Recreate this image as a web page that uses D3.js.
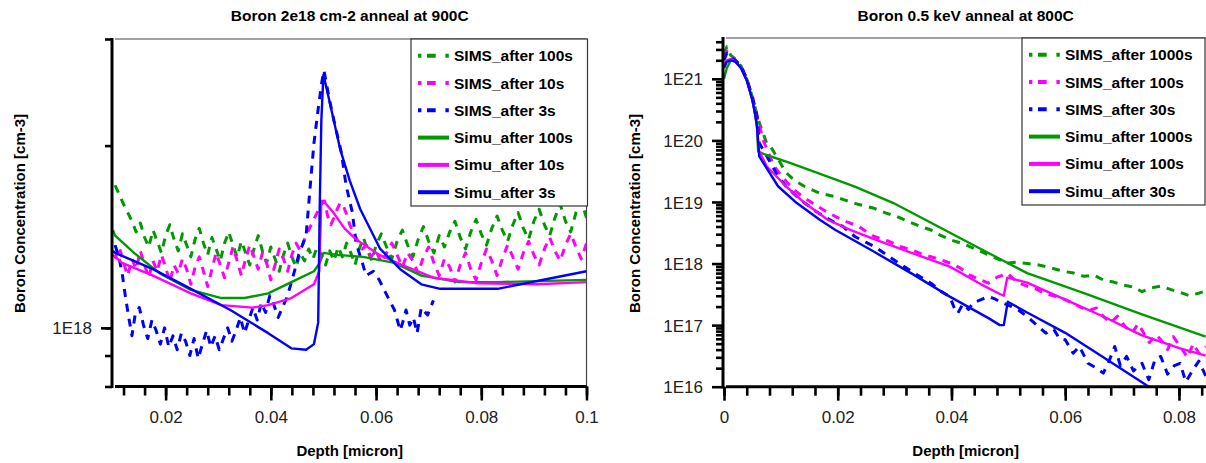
<!DOCTYPE html>
<html><head><meta charset="utf-8">
<script src="https://cdn.jsdelivr.net/npm/d3@7"></script>
<style>body{margin:0;background:#fff}svg{display:block}</style>
</head><body>
<svg id="c" width="1206" height="463"></svg>
<script>
// ---------------- DATA ----------------
const leftTitle = "Boron 2e18 cm-2 anneal at 900C";
const rightTitle = "Boron 0.5 keV anneal at 800C";
const xTitle = "Depth [micron]";
const yTitle = "Boron Concentration [cm-3]";

const leftLegend = ["SIMS_after 100s","SIMS_after 10s","SIMS_after 3s","Simu_after 100s","Simu_after 10s","Simu_after 3s"];
const rightLegend = ["SIMS_after 1000s","SIMS_after 100s","SIMS_after 30s","Simu_after 1000s","Simu_after 100s","Simu_after 30s"];

const leftXMajor = [0.02,0.04,0.06,0.08,0.1];
const leftXLabels = ["0.02","0.04","0.06","0.08","0.1"];
const leftYTicks = [0.8,0.9,1,2,3];          // units of 1E18
const leftYMajor = [1];
const leftYLabels = ["1E18"];
const rightXMajor = [0,0.02,0.04,0.06,0.08];
const rightXLabels = ["0","0.02","0.04","0.06","0.08"];
const rightYMajor = [1e16,1e17,1e18,1e19,1e20,1e21];
const rightYLabels = ["1E16","1E17","1E18","1E19","1E20","1E21"];

// Left panel: [depth (micron), concentration in 1E18 cm-3]
const simsLeft100 = [[0.0104,1.72],[0.0112,1.66],[0.0120,1.60],[0.0128,1.55],[0.0136,1.50],[0.0144,1.44],[0.0152,1.49],[0.0160,1.41],[0.0168,1.36],[0.0176,1.45],[0.0184,1.39],[0.0192,1.33],[0.0200,1.42],[0.0208,1.48],[0.0216,1.40],[0.0224,1.34],[0.0232,1.43],[0.0240,1.37],[0.0248,1.31],[0.0256,1.40],[0.0264,1.46],[0.0272,1.38],[0.0280,1.32],[0.0288,1.41],[0.0296,1.35],[0.0304,1.29],[0.0312,1.38],[0.0320,1.44],[0.0328,1.37],[0.0336,1.31],[0.0344,1.39],[0.0352,1.33],[0.0360,1.27],[0.0368,1.35],[0.0376,1.42],[0.0384,1.34],[0.0392,1.28],[0.0400,1.36],[0.0408,1.30],[0.0416,1.24],[0.0424,1.32],[0.0432,1.38],[0.0440,1.31],[0.0448,1.26],[0.0456,1.33],[0.0464,1.29],[0.0472,1.35],[0.0480,1.30],[0.0488,1.36],[0.0496,1.32],[0.0504,1.27],[0.0512,1.34],[0.0520,1.29],[0.0528,1.36],[0.0536,1.31],[0.0544,1.38],[0.0552,1.33],[0.0560,1.27],[0.0568,1.35],[0.0576,1.41],[0.0584,1.34],[0.0592,1.29],[0.0600,1.37],[0.0610,1.43],[0.0620,1.36],[0.0630,1.30],[0.0640,1.39],[0.0650,1.45],[0.0660,1.37],[0.0670,1.31],[0.0680,1.40],[0.0690,1.47],[0.0700,1.39],[0.0710,1.33],[0.0720,1.42],[0.0730,1.36],[0.0740,1.44],[0.0750,1.50],[0.0760,1.41],[0.0770,1.35],[0.0780,1.44],[0.0790,1.51],[0.0800,1.43],[0.0810,1.37],[0.0820,1.46],[0.0830,1.53],[0.0840,1.45],[0.0850,1.39],[0.0860,1.48],[0.0870,1.55],[0.0880,1.46],[0.0890,1.40],[0.0900,1.50],[0.0910,1.57],[0.0920,1.48],[0.0930,1.42],[0.0940,1.52],[0.0950,1.60],[0.0960,1.50],[0.0970,1.44],[0.0980,1.55],[0.0990,1.62],[0.1000,1.52]];
const simsLeft10 = [[0.0104,1.30],[0.0112,1.36],[0.0120,1.28],[0.0128,1.22],[0.0136,1.30],[0.0144,1.25],[0.0152,1.34],[0.0160,1.27],[0.0168,1.21],[0.0176,1.29],[0.0184,1.24],[0.0192,1.32],[0.0200,1.26],[0.0208,1.19],[0.0216,1.27],[0.0224,1.23],[0.0232,1.30],[0.0240,1.25],[0.0248,1.18],[0.0256,1.26],[0.0264,1.31],[0.0272,1.24],[0.0280,1.17],[0.0288,1.25],[0.0296,1.33],[0.0304,1.27],[0.0312,1.21],[0.0320,1.28],[0.0328,1.36],[0.0336,1.29],[0.0344,1.22],[0.0352,1.30],[0.0360,1.37],[0.0368,1.31],[0.0376,1.25],[0.0384,1.33],[0.0392,1.28],[0.0400,1.20],[0.0408,1.27],[0.0416,1.35],[0.0424,1.30],[0.0432,1.24],[0.0440,1.32],[0.0448,1.38],[0.0456,1.34],[0.0464,1.40],[0.0472,1.45],[0.0480,1.50],[0.0488,1.55],[0.0496,1.60],[0.0502,1.62],[0.0508,1.53],[0.0514,1.48],[0.0520,1.52],[0.0526,1.57],[0.0532,1.61],[0.0538,1.59],[0.0544,1.54],[0.0550,1.48],[0.0558,1.43],[0.0566,1.39],[0.0574,1.35],[0.0582,1.37],[0.0590,1.31],[0.0600,1.34],[0.0610,1.28],[0.0620,1.33],[0.0630,1.38],[0.0640,1.32],[0.0650,1.26],[0.0660,1.33],[0.0670,1.29],[0.0680,1.23],[0.0690,1.31],[0.0700,1.36],[0.0710,1.28],[0.0720,1.22],[0.0730,1.30],[0.0740,1.26],[0.0750,1.19],[0.0760,1.27],[0.0770,1.33],[0.0780,1.25],[0.0790,1.20],[0.0800,1.28],[0.0810,1.35],[0.0820,1.29],[0.0830,1.22],[0.0840,1.30],[0.0850,1.37],[0.0860,1.31],[0.0870,1.25],[0.0880,1.33],[0.0890,1.39],[0.0900,1.32],[0.0910,1.27],[0.0920,1.35],[0.0930,1.41],[0.0940,1.34],[0.0950,1.29],[0.0960,1.37],[0.0970,1.43],[0.0980,1.36],[0.0990,1.30],[0.1000,1.38]];
const simsLeft3 = [[0.0104,1.37],[0.0112,1.30],[0.0118,1.22],[0.0124,1.12],[0.0130,1.04],[0.0136,0.97],[0.0142,1.05],[0.0150,1.08],[0.0158,1.01],[0.0166,0.96],[0.0174,1.03],[0.0182,0.99],[0.0190,0.94],[0.0198,1.00],[0.0206,0.93],[0.0214,0.97],[0.0222,0.92],[0.0230,0.98],[0.0238,0.95],[0.0246,0.90],[0.0254,0.96],[0.0262,0.89],[0.0270,0.94],[0.0278,0.99],[0.0286,0.93],[0.0294,0.97],[0.0302,0.92],[0.0310,0.96],[0.0318,1.00],[0.0326,0.95],[0.0334,0.99],[0.0342,1.04],[0.0350,0.98],[0.0358,1.03],[0.0366,1.08],[0.0374,1.03],[0.0382,1.10],[0.0390,1.06],[0.0398,1.13],[0.0406,1.09],[0.0414,1.04],[0.0422,1.08],[0.0430,1.12],[0.0438,1.18],[0.0446,1.25],[0.0453,1.32],[0.0467,1.42],[0.0475,1.72],[0.0482,2.02],[0.0490,2.30],[0.0497,2.55],[0.0501,2.66],[0.0511,2.39],[0.0522,2.16],[0.0534,1.95],[0.0543,1.72],[0.0555,1.55],[0.0562,1.38],[0.0574,1.28],[0.0581,1.22],[0.0595,1.24],[0.0606,1.20],[0.0621,1.13],[0.0635,1.07],[0.0646,0.99],[0.0652,1.03],[0.0657,1.07],[0.0664,1.01],[0.0671,1.04],[0.0678,0.98],[0.0686,1.08],[0.0698,1.05],[0.0709,1.11]];
const simuLeft100 = [[0.0100,1.45],[0.0104,1.42],[0.0140,1.33],[0.0189,1.23],[0.0248,1.155],[0.0306,1.12],[0.0350,1.12],[0.0395,1.14],[0.0439,1.19],[0.0482,1.24],[0.0493,1.28],[0.0500,1.33],[0.0526,1.32],[0.0575,1.31],[0.0635,1.28],[0.0686,1.22],[0.0758,1.19],[0.0831,1.19],[0.1000,1.20]];
const simuLeft10 = [[0.0100,1.32],[0.0117,1.28],[0.0176,1.22],[0.0248,1.14],[0.0306,1.09],[0.0365,1.08],[0.0395,1.09],[0.0439,1.12],[0.0482,1.18],[0.0492,1.24],[0.0496,1.62],[0.0500,1.62],[0.0519,1.55],[0.0540,1.46],[0.0562,1.40],[0.0606,1.32],[0.0650,1.27],[0.0709,1.21],[0.0794,1.185],[0.0905,1.18],[0.1000,1.19]];
const simuLeft3 = [[0.0100,1.34],[0.0104,1.33],[0.0176,1.25],[0.0248,1.16],[0.0323,1.07],[0.0395,0.98],[0.0439,0.925],[0.0467,0.92],[0.0482,0.94],[0.0490,1.02],[0.0493,1.60],[0.0496,2.20],[0.0500,2.62],[0.0510,2.40],[0.0532,1.97],[0.0550,1.75],[0.0570,1.57],[0.0608,1.35],[0.0646,1.25],[0.0686,1.18],[0.0722,1.16],[0.0831,1.16],[0.1000,1.24]];

// Right panel: [depth (micron), concentration (cm-3)]
const simsRight1000 = [[0,2.5e21],[0.0005,3.3e21],[0.0012,2.4e21],[0.002,2.1e21],[0.003,1.6e21],[0.004,1.0e21],[0.005,5.0e20],[0.0058,2.6e20],[0.0062,1.95e20],[0.0075,9.0e19],[0.0082,7.9e19],[0.0095,5.0e19],[0.0109,3.0e19],[0.0125,2.2e19],[0.0142,1.78e19],[0.0169,1.38e19],[0.0190,1.25e19],[0.0209,1.1e19],[0.0235,9.2e18],[0.0264,7.9e18],[0.0285,6.6e18],[0.0304,5.8e18],[0.0325,4.8e18],[0.0345,4.0e18],[0.0364,3.5e18],[0.0380,2.9e18],[0.0397,2.45e18],[0.0420,2.1e18],[0.0440,1.75e18],[0.0465,1.38e18],[0.0480,1.2e18],[0.0499,1.02e18],[0.0515,1.05e18],[0.0533,1.0e18],[0.0550,9.6e17],[0.0566,8.9e17],[0.0585,8.0e17],[0.0600,7.4e17],[0.0615,7.0e17],[0.0633,6.2e17],[0.0650,6.5e17],[0.0667,5.4e17],[0.0685,5.0e17],[0.0701,4.5e17],[0.0718,4.2e17],[0.0735,3.5e17],[0.0750,4.0e17],[0.0768,4.3e17],[0.0785,3.8e17],[0.0802,3.4e17],[0.0818,3.0e17],[0.0835,3.3e17],[0.0850,3.7e17]];
const simsRight100 = [[0,2.2e21],[0.0005,2.8e21],[0.0012,2.3e21],[0.002,2.0e21],[0.003,1.6e21],[0.004,1.0e21],[0.005,5.0e20],[0.0058,2.5e20],[0.0069,1.0e20],[0.0088,3.8e19],[0.0105,2.4e19],[0.0122,1.6e19],[0.0140,1.2e19],[0.0156,9.5e18],[0.0175,7.4e18],[0.0196,5.8e18],[0.0215,4.8e18],[0.0237,4.0e18],[0.0250,3.3e18],[0.0264,2.75e18],[0.0290,2.3e18],[0.0310,1.9e18],[0.0331,1.66e18],[0.0350,1.4e18],[0.0375,1.2e18],[0.0397,1.02e18],[0.0415,8.5e17],[0.0432,6.5e17],[0.0452,5.4e17],[0.0465,4.8e17],[0.0480,6.0e17],[0.0499,6.9e17],[0.0515,5.0e17],[0.0533,4.3e17],[0.0550,3.8e17],[0.0566,3.2e17],[0.0585,2.9e17],[0.0600,2.6e17],[0.0620,2.1e17],[0.0640,1.7e17],[0.0655,1.9e17],[0.0667,1.38e17],[0.0680,1.1e17],[0.0692,1.4e17],[0.0705,9.5e16],[0.0718,7.5e16],[0.0728,1.05e17],[0.0735,8.3e16],[0.0748,5.2e16],[0.0760,7.0e16],[0.0768,5.8e16],[0.0780,4.0e16],[0.0790,6.5e16],[0.0802,4.5e16],[0.0815,3.0e16],[0.0825,5.0e16],[0.0835,3.5e16],[0.0847,4.5e16]];
const simsRight30 = [[0,2.0e21],[0.0005,2.6e21],[0.0012,2.2e21],[0.002,2.0e21],[0.003,1.6e21],[0.004,1.0e21],[0.005,5.0e20],[0.0058,2.5e20],[0.0062,9.1e19],[0.0082,4.3e19],[0.0095,2.6e19],[0.0109,1.8e19],[0.0125,1.3e19],[0.0142,9.6e18],[0.0160,7.2e18],[0.0176,5.8e18],[0.0195,4.6e18],[0.0209,4.0e18],[0.0230,2.75e18],[0.0250,2.2e18],[0.0264,1.9e18],[0.0290,1.3e18],[0.0317,8.9e17],[0.0340,6.5e17],[0.0364,4.8e17],[0.0380,3.6e17],[0.0397,2.9e17],[0.0405,1.9e17],[0.0411,1.55e17],[0.0420,2.2e17],[0.0430,1.8e17],[0.0438,2.3e17],[0.0452,2.6e17],[0.0465,2.9e17],[0.0475,2.7e17],[0.0485,2.4e17],[0.0495,2.2e17],[0.0506,2.0e17],[0.0520,1.7e17],[0.0533,1.38e17],[0.0550,1.0e17],[0.0566,7.4e16],[0.0580,8.5e16],[0.0590,6.0e16],[0.0600,5.8e16],[0.0614,3.5e16],[0.0625,4.5e16],[0.0640,2.4e16],[0.0655,2.0e16],[0.0667,1.66e16],[0.0677,2.6e16],[0.0687,4.5e16],[0.0697,2.2e16],[0.0708,3.1e16],[0.0720,1.8e16],[0.0735,2.4e16],[0.0747,1.3e16],[0.0758,2.8e16],[0.0768,3.1e16],[0.0780,1.6e16],[0.0792,2.2e16],[0.0802,2.4e16],[0.0812,1.2e16],[0.0825,1.9e16],[0.0835,2.6e16],[0.0847,1.5e16]];
const simuRight1000 = [[0,1.0e21],[0.0005,1.5e21],[0.0012,2.0e21],[0.002,1.9e21],[0.003,1.5e21],[0.004,9.5e20],[0.005,4.5e20],[0.0055,2.6e20],[0.0058,1.7e20],[0.0060,6.6e19],[0.0072,5.9e19],[0.0116,4.3e19],[0.0163,3.0e19],[0.0230,1.77e19],[0.0297,9.7e18],[0.0364,4.6e18],[0.0465,1.48e18],[0.0533,7.0e17],[0.0633,3.3e17],[0.0735,1.5e17],[0.0847,6.5e16]];
const simuRight100 = [[0,1.7e21],[0.0005,2.0e21],[0.0012,2.1e21],[0.002,1.9e21],[0.003,1.5e21],[0.004,9.5e20],[0.005,4.5e20],[0.0055,2.6e20],[0.0058,1.7e20],[0.0061,7.0e19],[0.0075,3.8e19],[0.0109,1.8e19],[0.0142,9.6e18],[0.0183,5.1e18],[0.0223,3.5e18],[0.0264,2.5e18],[0.0331,1.48e18],[0.0397,8.9e17],[0.0452,4.6e17],[0.0485,3.2e17],[0.0492,3.0e17],[0.0498,5.9e17],[0.0533,4.9e17],[0.0600,2.6e17],[0.0667,1.38e17],[0.0735,6.8e16],[0.0802,4.2e16],[0.0847,3.2e16]];
const simuRight30 = [[0,1.5e21],[0.0005,1.9e21],[0.0012,2.0e21],[0.002,1.9e21],[0.003,1.5e21],[0.004,9.5e20],[0.005,4.5e20],[0.0055,2.6e20],[0.0058,1.7e20],[0.0062,5.5e19],[0.0095,1.8e19],[0.0128,9.6e18],[0.0169,5.1e18],[0.0196,3.5e18],[0.0264,1.55e18],[0.0331,6.8e17],[0.0397,2.9e17],[0.0465,1.3e17],[0.0485,1.0e17],[0.0492,1.0e17],[0.0499,2.4e17],[0.0533,1.6e17],[0.0600,7.5e16],[0.0667,3.0e16],[0.0747,1.0e16],[0.0850,4.0e15]];

// ---------------- DRAWING ----------------
const GREEN = "#009900", MAGENTA = "#ff00ff", BLUE = "#0000ff";
const FONT = "'Liberation Sans', Arial, Helvetica, sans-serif";
const svg = d3.select("#c");
svg.append("rect").attr("width",1206).attr("height",463).attr("fill","#fff");

function panel(cfg){
  const g = svg.append("g");
  const x = d3.scaleLinear().domain(cfg.xDomain).range(cfg.xRange);
  const y = d3.scaleLog().domain(cfg.yDomain).range(cfg.yRange);
  const x0 = cfg.xRange[0], x1 = Math.min(cfg.xRange[1], 1206);
  const yb = cfg.yRange[0], yt = cfg.yRange[1];

  const cid = cfg.id + "clip";
  svg.append("clipPath").attr("id", cid).append("rect")
    .attr("x", x0).attr("y", yt).attr("width", x1 - x0).attr("height", yb - yt);

  g.append("line").attr("x1", cfg.spineX + 3).attr("x2", x1).attr("y1", yt).attr("y2", yt)
    .attr("stroke", "#444").attr("stroke-width", 1.2);
  if (cfg.rightBorder) g.append("line").attr("x1", x1).attr("x2", x1).attr("y1", yt).attr("y2", yb)
    .attr("stroke", "#444").attr("stroke-width", 1.2);

  const line = d3.line().x(d => x(d[0])).y(d => y(d[1]));
  const lines = g.append("g").attr("clip-path", `url(#${cid})`);
  cfg.series.forEach(s => {
    lines.append("path").attr("d", line(s.data)).attr("fill", "none")
      .attr("stroke", s.color).attr("stroke-width", s.dashed ? 3 : 2.4)
      .attr("stroke-dasharray", s.dashed ? "8,7" : null)
      .attr("stroke-linejoin", "round");
  });

  const xa = g.append("g").attr("transform", `translate(0,${yb})`)
    .call(d3.axisBottom(x).tickValues(cfg.xMinor).tickSize(9).tickFormat(""));
  xa.select(".domain").remove();
  xa.selectAll("line").attr("stroke", "#000").attr("stroke-width", 2.6);
  const xb = g.append("g").attr("transform", `translate(0,${yb})`)
    .call(d3.axisBottom(x).tickValues(cfg.xMajor).tickSize(14).tickFormat((d, i) => cfg.xLabels[i]));
  xb.select(".domain").remove();
  xb.selectAll("line").attr("stroke", "#000").attr("stroke-width", 2.6);
  xb.selectAll("text").attr("y", 36.5).attr("dy", null).attr("fill", "#222")
    .style("font-family", FONT).style("font-size", "17px");
  g.append("line").attr("x1", cfg.spineX + 3).attr("x2", x1).attr("y1", yb).attr("y2", yb)
    .attr("stroke", "#000").attr("stroke-width", 3);

  const ya = g.append("g").attr("transform", `translate(${cfg.spineX},0)`)
    .call(d3.axisLeft(y).tickValues(cfg.yMinor).tickSize(7).tickFormat(""));
  ya.select(".domain").remove();
  ya.selectAll("line").attr("stroke", "#000").attr("stroke-width", 2.6);
  const yb2 = g.append("g").attr("transform", `translate(${cfg.spineX},0)`)
    .call(d3.axisLeft(y).tickValues(cfg.yMajor).tickSize(11).tickFormat((d, i) => cfg.yLabels[i]));
  yb2.select(".domain").remove();
  yb2.selectAll("line").attr("stroke", "#000").attr("stroke-width", 2.6);
  yb2.selectAll("text").attr("x", -20).attr("dy", "0.36em").attr("fill", "#222")
    .style("font-family", FONT).style("font-size", "17px");
  g.append("line").attr("x1", cfg.spineX).attr("x2", cfg.spineX).attr("y1", yt - 1).attr("y2", yb + 1.5)
    .attr("stroke", "#000").attr("stroke-width", 3);

  const cx = (x0 + cfg.xRange[1]) / 2;
  g.append("text").attr("x", cx).attr("y", 21).attr("text-anchor", "middle")
    .style("font-family", FONT).style("font-weight", "bold").style("font-size", "15.5px").text(cfg.title);
  g.append("text").attr("x", cx).attr("y", 456).attr("text-anchor", "middle")
    .style("font-family", FONT).style("font-weight", "bold").style("font-size", "15px").text(xTitle);
  g.append("text").attr("transform", `translate(${cfg.yTitleX},213.5) rotate(-90)`).attr("text-anchor", "middle")
    .style("font-family", FONT).style("font-weight", "bold").style("font-size", "15px").text(yTitle);

  const L = cfg.legend;
  const lg = g.append("g");
  lg.append("rect").attr("x", L.x).attr("y", yt).attr("width", L.w).attr("height", 167)
    .attr("fill", "#fff").attr("stroke", "#333").attr("stroke-width", 1.2);
  cfg.series.forEach((s, i) => {
    const cy = yt + 16.7 + i * 27.3;
    lg.append("line").attr("x1", L.x + 7).attr("x2", L.x + 38).attr("y1", cy).attr("y2", cy)
      .attr("stroke", s.color).attr("stroke-width", 4)
      .attr("stroke-dasharray", s.dashed ? "3.4,5.6,8.7,9.7,3.4" : null);
    lg.append("text").attr("x", L.x + 43).attr("y", cy + 5.5)
      .style("font-family", FONT).style("font-weight", "bold").style("font-size", "15.5px")
      .text(cfg.legendNames[i]);
  });
}

const leftXMinor = d3.range(3, 26).map(i => +(i * 0.004).toFixed(3));
const rightXMinor = d3.range(0, 22).map(i => +(i * 0.004).toFixed(3));
const rightYMinor = [];
for (let e = 16; e <= 21; e++) for (let m = 2; m <= 9; m++) { const v = m * Math.pow(10, e); if (v <= 4.6e21) rightYMinor.push(v); }

panel({
  id: "L", title: leftTitle,
  xDomain: [0.01, 0.1], xRange: [113, 586.5], yDomain: [0.8, 3], yRange: [386.5, 39],
  spineX: 112, rightBorder: true, yTitleX: 25,
  xMinor: leftXMinor, xMajor: leftXMajor, xLabels: leftXLabels,
  yMinor: leftYTicks, yMajor: leftYMajor, yLabels: leftYLabels,
  legend: { x: 411, w: 176.5 }, legendNames: leftLegend,
  series: [
    { data: simsLeft100, color: GREEN, dashed: true },
    { data: simsLeft10, color: MAGENTA, dashed: true },
    { data: simsLeft3, color: BLUE, dashed: true },
    { data: simuLeft100, color: GREEN, dashed: false },
    { data: simuLeft10, color: MAGENTA, dashed: false },
    { data: simuLeft3, color: BLUE, dashed: false }
  ]
});

panel({
  id: "R", title: rightTitle,
  xDomain: [0, 0.085], xRange: [724, 1207.4], yDomain: [1e16, 4.6e21], yRange: [386.7, 38],
  spineX: 723, rightBorder: false, yTitleX: 640,
  xMinor: rightXMinor, xMajor: rightXMajor, xLabels: rightXLabels,
  yMinor: rightYMinor, yMajor: rightYMajor, yLabels: rightYLabels,
  legend: { x: 1022, w: 183 }, legendNames: rightLegend,
  series: [
    { data: simsRight1000, color: GREEN, dashed: true },
    { data: simsRight100, color: MAGENTA, dashed: true },
    { data: simsRight30, color: BLUE, dashed: true },
    { data: simuRight1000, color: GREEN, dashed: false },
    { data: simuRight100, color: MAGENTA, dashed: false },
    { data: simuRight30, color: BLUE, dashed: false }
  ]
});
</script>
</body></html>
